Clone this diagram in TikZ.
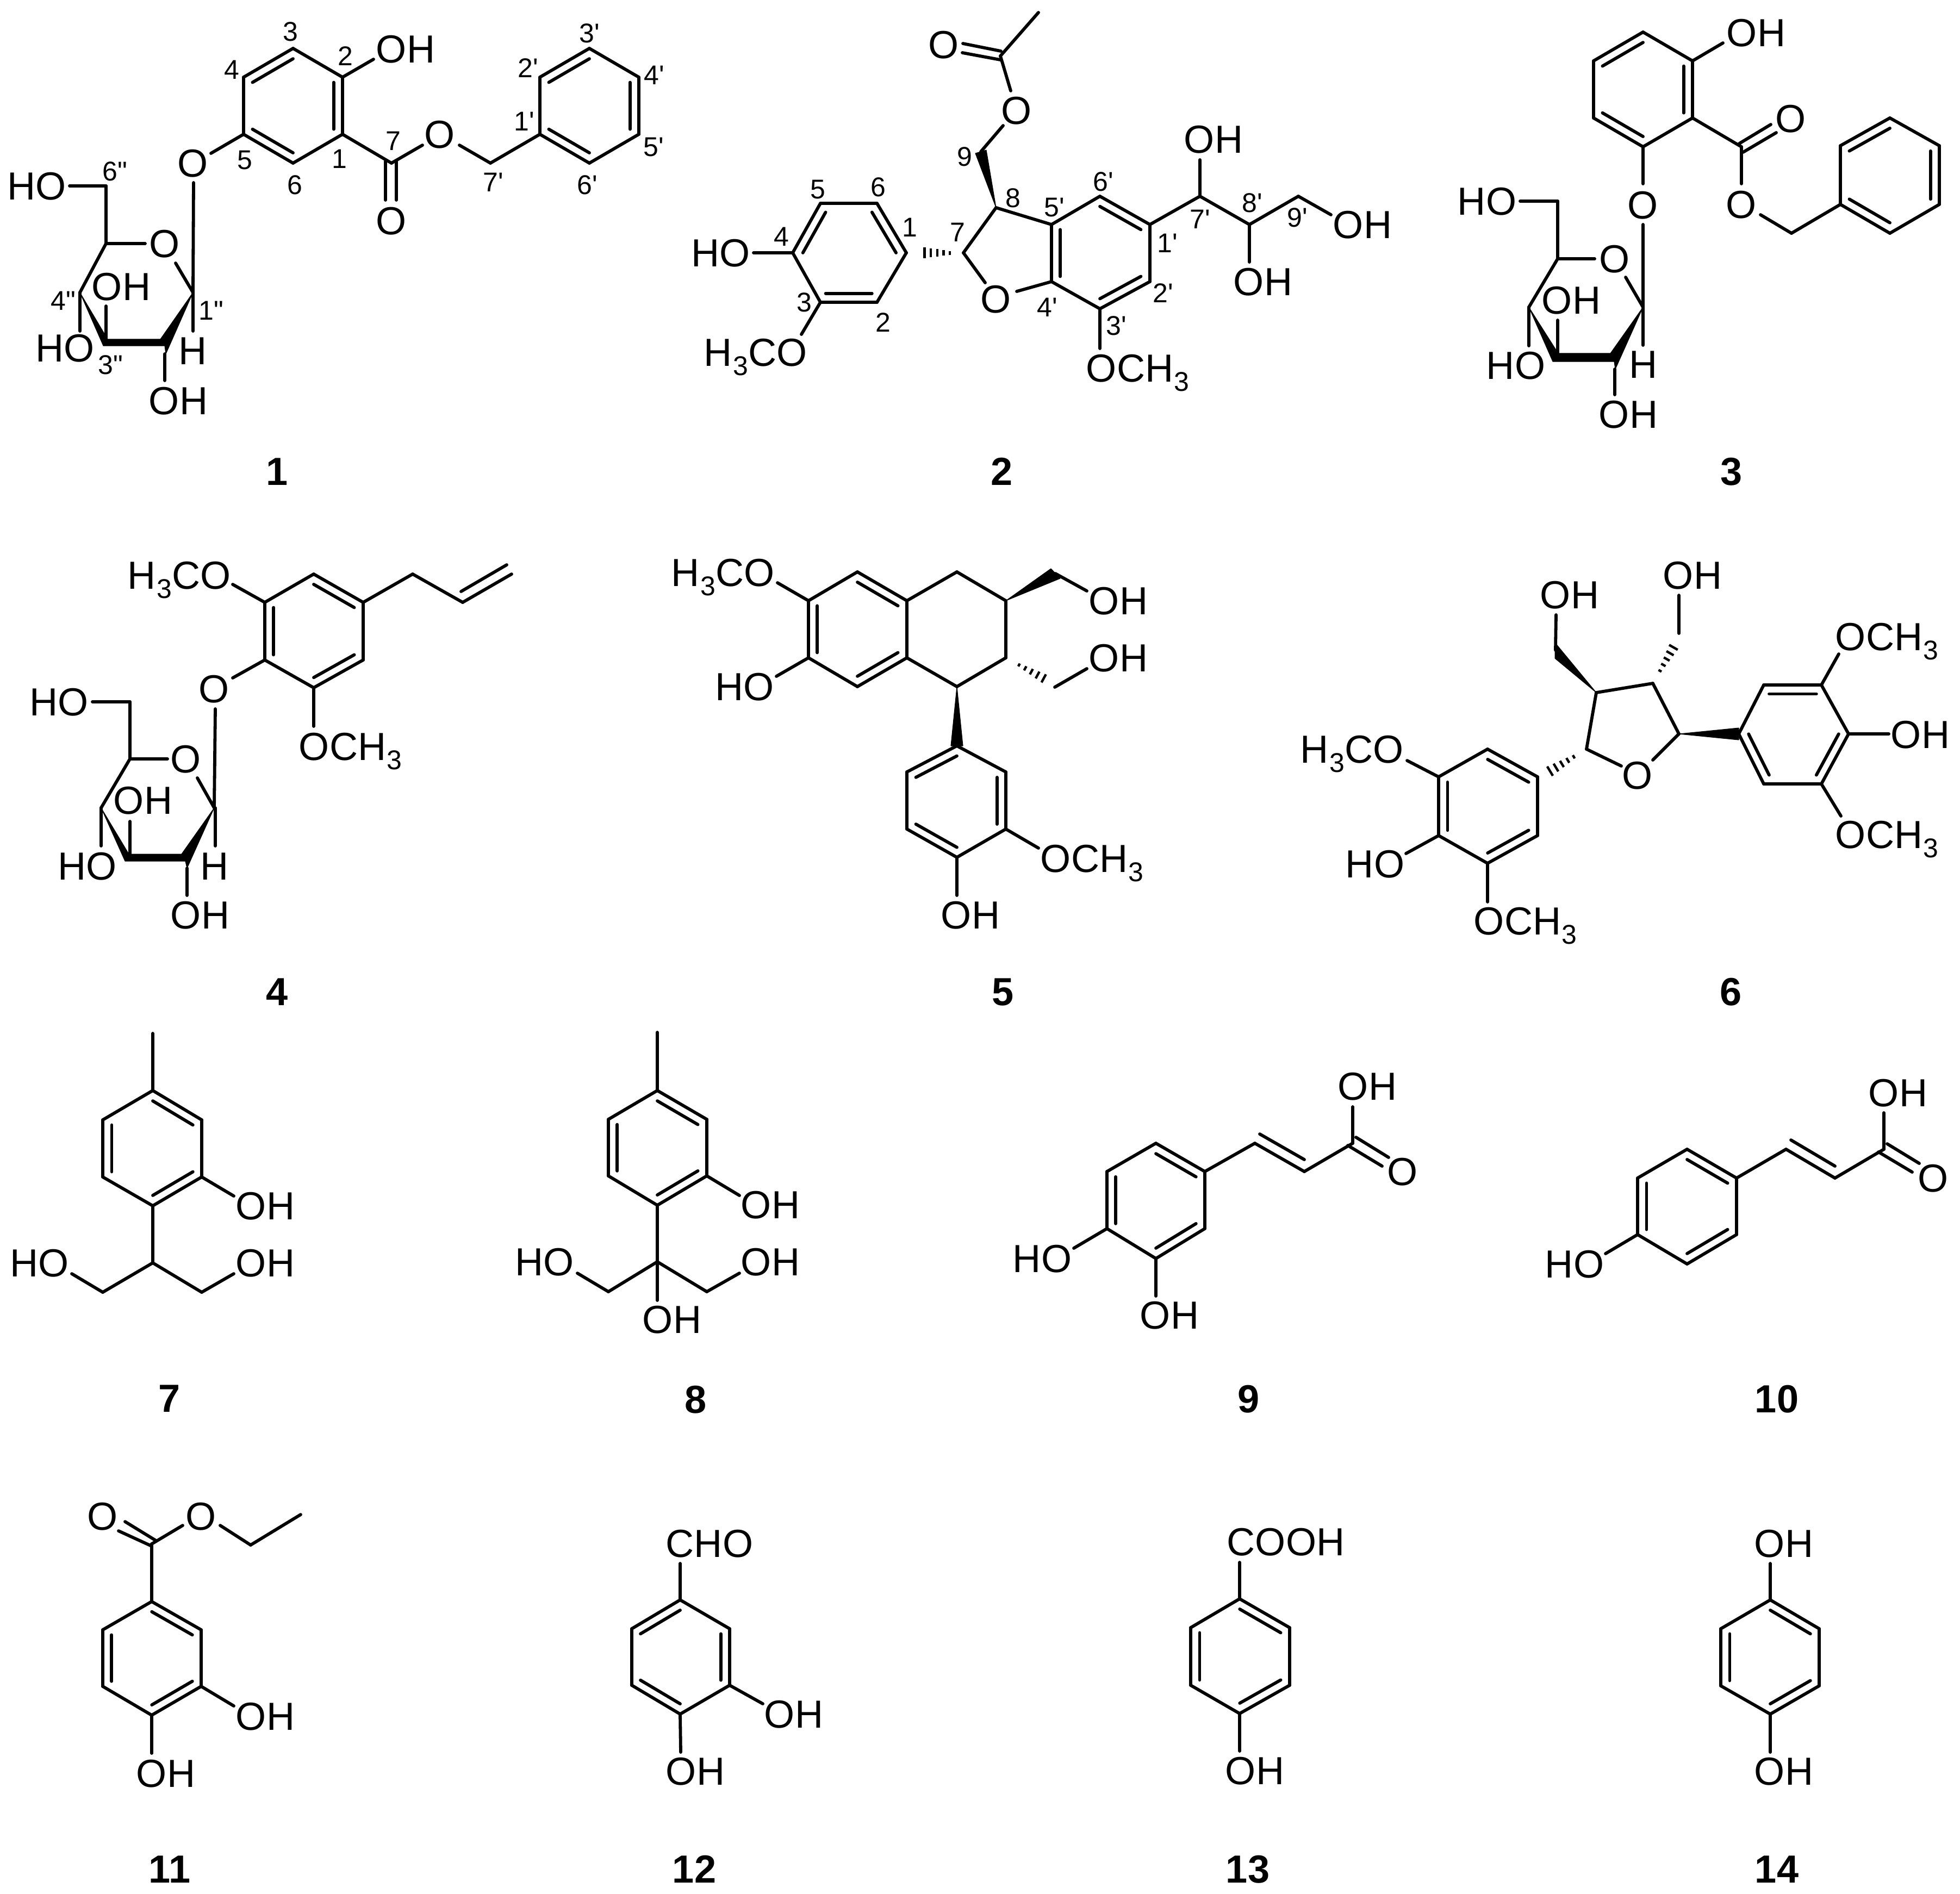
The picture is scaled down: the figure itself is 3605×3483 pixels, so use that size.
\documentclass[tikz,border=0pt]{standalone}
\usepackage{fontspec}
\usetikzlibrary{calc}
\newfontfamily\arialish{Liberation Sans}
\newcommand\subthree{\kern.3pt\raisebox{-4.6pt}{\fontsize{14.2pt}{14.2pt}\selectfont 3}\kern.3pt}
\newcommand\pts[1]{\foreach \nm/\px/\py in {#1} \coordinate (\nm) at (\px,\py);}
\newcommand\bonds[1]{\foreach \pa/\pb in {#1} \draw[bond] (\pa)--(\pb);}
\newcommand\rdbl[1]{\foreach \pa/\pb/\pc in {#1} \draw[bond] ($(\pa)!.18!(\pc)$)--($(\pb)!.18!(\pc)$);}
\newcommand\atoms[1]{\foreach \nm/\px/\py/\tx in {#1} \node[atom] (\nm) at (\px,\py) {\tx};}
\newcommand\nums[1]{\foreach \nm/\px/\py/\tx in {#1} \node[num] (\nm) at (\px,\py) {\tx};}
% apex, wide end, half width at the wide end (pt)
\newcommand\hashb[3]{\foreach \i in {1,...,6}{%
  \pgfmathsetmacro\tt{.3+.7*(\i-1)/5}\pgfmathsetmacro\ww{#3*\tt}%
  \draw[hashline] ($(#1)!\tt!(#2)!\ww pt!90:(#2)$)--($(#1)!\tt!(#2)!\ww pt!-90:(#2)$);}}
\tikzset{
  bond/.style={line width=1.65pt,line cap=round,line join=round,black},
  hashline/.style={line width=1.25pt,black},
  solidw/.style={fill=black,draw=black,line width=.3pt,line join=round},
  atom/.style={inner sep=0pt,font=\arialish\fontsize{20.5pt}{20.5pt}\selectfont,text height=14.7pt,text depth=0pt},
  num/.style={inner sep=0pt,font=\arialish\fontsize{14.2pt}{14.2pt}\selectfont,text height=10.2pt,text depth=0pt},
  cpd/.style={inner sep=0pt,font=\arialish\bfseries\fontsize{20.5pt}{20.5pt}\selectfont,text height=14.7pt,text depth=0pt}
}
\begin{document}
\begin{tikzpicture}[x=.01cm,y=-.01cm]
\useasboundingbox (0,0) rectangle (3605,3483);
%% ---------- 1 ----------
\pts{a1/630/247,a2/630/142,a3/539/89,a4/448/142,a5/448/247,a6/539/300,ac/539/195,a7/720/300,aE1/687/109,aE2/777/267,aE3/845/267,a8/902/300,
p1/993/247,p2/993/142,p3/1084/89,p4/1175/142,p5/1175/247,p6/1084/300,pc/1084/195,aE4/388/282,aE5/356/336,
s1/355/538,sE1/323/484,s5/195/448,sE2/267/448,s6/195/342,sE3/128/342,s4/147/538,sE4/147/609,s3/195/624,sE5/195/563,sE6/355/609,s2/303/651,sE7/303/700,
aD1/709/297,aD2/709/368,aD3/729/297,aD4/729/368}
\bonds{a1/a2,a2/a3,a3/a4,a4/a5,a5/a6,a6/a1,a2/aE1,a1/a7,a7/aE2,aE3/a8,a8/p1,aD1/aD2,aD3/aD4,
p1/p2,p2/p3,p3/p4,p4/p5,p5/p6,p6/p1,a5/aE4,aE5/s1,s1/sE1,s5/sE2,s5/s6,s6/sE3,s5/s4,s4/sE4,s3/sE5,s1/sE6,s2/sE7}
\rdbl{a1/a2/ac,a3/a4/ac,a5/a6/ac,p1/p6/pc,p2/p3/pc,p4/p5/pc}
\fill[solidw] (147,538)--(198,624)--(295,624)--(355,538)--(305,651)--(303,636)--(190,636)--cycle;
\atoms{t1a/746/90/OH,t1b/809/247/O,t1c/720/406/O,t1d/355/300/O,t1e/303/448/O,t1f/68/342/HO,t1g/120/640/HO,t1h/223/527/OH,t1i/355/645/H,t1j/328/737/OH}
\nums{n1a/534/58/3,n1b/635/103/2,n1c/426/128/4,n1d/624/292/1,n1e/450/294/5,n1f/542/340/6,n1g/723/259/7,n1h/211/315/6",n1i/388/571/1",n1j/116/553/4",n1k/203/671/3",n1l/907/335/7',n1m/1080/340/6',n1n/964/223/1',n1o/971/125/2',n1p/1084/61/3',n1q/1203/138/4',n1r/1202/270/5'}
\node[cpd] (c1) at (510,867) {1};
%% ---------- 2 ----------
\pts{b1/1667/465,b2/1613/556,b3/1509/556,b4/1458/465,b5/1509/374,b6/1613/374,bc/1562/465,b7/1772/465,b8/1832/382,
q5/1934/413,q6/2023/361,q1/2115/413,q2/2115/518,q3/2023/568,q4/1934/518,qc/2023/465,
bE1/1386/465,bE2/1474/615,bE3/1812/520,bE4/1870/536,b9/1804/279,bE5/1845/231,bE6/1859/167,bC/1840/103,bM/1910/23,
bD1/1841/94,bD2/1771/80,bD3/1840/110,bD4/1770/97,bH/1689/465,
q7/2207/361,qE1/2207/294,q8/2298/413,qE2/2298/482,q9/2388/361,qE3/2448/395,qE4/2023/641}
\bonds{b1/b2,b2/b3,b3/b4,b4/b5,b5/b6,b6/b1,b4/bE1,b3/bE2,b7/b8,b7/bE3,bE4/q4,b8/q5,q4/q5,q5/q6,q6/q1,q1/q2,q2/q3,q3/q4,b9/bE5,bE6/bC,bC/bM,bD1/bD2,bD3/bD4,q1/q7,q7/qE1,q7/q8,q8/qE2,q8/q9,q9/qE3,q3/qE4}
\rdbl{b1/b6/bc,b4/b5/bc,b2/b3/bc,q4/q5/qc,q6/q1/qc,q2/q3/qc}
\hashb{b7}{bH}{3.3}
\fill[solidw] (1832,382)--(1794,282)--(1814,276)--cycle;
\atoms{t2a/1326/465/HO,t2c/1832/550/O,t2d/1870/203/O,t2e/1736/82/O,t2f/2232/256/OH,t2g/2323/518/OH,t2h/2506/413/OH}
\node[atom] (t2b) at (1390,648) {H\subthree CO};
\node[atom] (t2i) at (2093,677) {OCH\subthree};
\nums{n2a/1504/348/5,n2b/1615/344/6,n2c/1673/418/1,n2d/1761/427/7,n2e/1774/288/9,n2f/1863/364/8,n2g/1939/381/5',n2h/2029/334/6',n2i/1437/435/4,n2j/1479/556/3,n2k/1624/593/2,n2l/1926/565/4',n2m/2053/599/3',n2n/2139/539/2',n2o/2147/447/1',n2p/2207/403/7',n2q/2303/373/8',n2r/2386/400/9'}
\node[cpd] (c2) at (1843,867) {2};
%% ---------- 3 ----------
\pts{d1/3113/217,d2/3113/112,d3/3022/59,d4/2931/112,d5/2931/217,d6/3022/270,dc/3022/165,dE1/3169/79,d7/3203/270,dD1/3199/264,dD2/3257/229,dD3/3206/280,dD4/3267/244,dE2/3203/338,dE3/3238/395,d8/3295/429,
r1/3385/376,r2/3385/268,r3/3476/217,r4/3567/268,r5/3567/376,r6/3476/429,rc/3476/322,dE4/3022/338,dE5/3022/413,
u1/3022/565,uE1/2990/510,u5/2865/476,uE2/2933/476,u6/2865/370,uE3/2796/370,u4/2812/565,uE4/2812/636,u3/2865/650,uE5/2865/589,uE6/3022/635,u2/2970/679,uE7/2970/726}
\bonds{d1/d2,d2/d3,d3/d4,d4/d5,d5/d6,d6/d1,d2/dE1,d1/d7,dD1/dD2,dD3/dD4,d7/dE2,dE3/d8,d8/r1,r1/r2,r2/r3,r3/r4,r4/r5,r5/r6,r6/r1,d6/dE4,dE5/u1,u1/uE1,u5/uE2,u5/u6,u6/uE3,u5/u4,u4/uE4,u3/uE5,u1/uE6,u2/uE7}
\rdbl{d1/d2/dc,d3/d4/dc,d5/d6/dc,r1/r6/rc,r2/r3/rc,r4/r5/rc}
\fill[solidw] (2812,565)--(2866,650)--(2962,650)--(3022,565)--(2971,679)--(2969,665)--(2856,665)--cycle;
\atoms{t3a/3230/60/OH,t3b/3294/218/O,t3c/3203/376/O,t3d/3022/377/O,t3e/2970/476/O,t3f/2735/370/HO,t3g/2788/672/HO,t3h/2890/552/OH,t3i/3022/670/H,t3j/2995/762/OH}
\node[cpd] (c3) at (3185,867) {3};
%% ---------- 4 ----------
\pts{e1/577/1056,e2/668/1108,e3/668/1214,e4/577/1265,e5/487/1214,e6/487/1108,ec/577/1161,eE1/428/1075,e7/759/1056,e8/851/1108,e9/941/1056,eD1/848/1088,eD2/932/1039,eE2/428/1247,eE3/396/1304,eE4/577/1336,
v1/394/1486,vE1/363/1431,v5/239/1396,vE2/308/1396,v6/239/1291,vE3/170/1291,v4/186/1486,vE4/186/1556,v3/239/1571,vE5/239/1511,vE6/396/1556,vT/396/1486,v2/344/1597,vE7/344/1647}
\bonds{e1/e2,e2/e3,e3/e4,e4/e5,e5/e6,e6/e1,e6/eE1,e2/e7,e7/e8,e8/e9,eD1/eD2,e5/eE2,eE3/v1,e4/eE4,v1/vE1,v5/vE2,v5/v6,v6/vE3,v5/v4,v4/vE4,v3/vE5,vT/vE6,v2/vE7}
\rdbl{e1/e2/ec,e5/e6/ec,e3/e4/ec}
\fill[solidw] (186,1486)--(237,1571)--(334,1571)--(394,1486)--(344,1597)--(341,1584)--(230,1584)--cycle;
\atoms{t4b/394/1267/O,t4d/342/1396/O,t4e/109/1291/HO,t4f/161/1593/HO,t4g/263/1472/OH,t4h/395/1593/H,t4i/368/1683/OH}
\node[atom] (t4a) at (330,1058) {H\subthree CO};
\node[atom] (t4c) at (645,1373) {OCH\subthree};
\node[cpd] (c4) at (510,1824) {4};
%% ---------- 5 ----------
\pts{f1/1577/1052,f2/1668/1105,f3/1668/1210,f4/1577/1263,f5/1487/1210,f6/1487/1105,fc/1577/1157,f7/1760/1052,f8/1850/1105,f9/1850/1210,f10/1760/1263,fE1/1430/1072,fE2/1428/1244,
fW/1941/1055,fE3/1999/1087,fH/1931/1254,fG/1940/1264,fE4/1999/1230,
w1/1760/1372,w2/1850/1420,w3/1850/1525,w4/1760/1577,w5/1668/1525,w6/1668/1420,wc/1760/1475,wE1/1910/1560,wE2/1760/1647}
\bonds{f1/f2,f2/f3,f3/f4,f4/f5,f5/f6,f6/f1,f2/f7,f7/f8,f8/f9,f9/f10,f10/f3,f6/fE1,f5/fE2,fW/fE3,fG/fE4,w1/w2,w2/w3,w3/w4,w4/w5,w5/w6,w6/w1,w3/wE1,w4/wE2}
\rdbl{f1/f2/fc,f5/f6/fc,f3/f4/fc,w1/w6/wc,w2/w3/wc,w4/w5/wc}
\hashb{f9}{fH}{2.8}
\fill[solidw] (1850,1105)--(1933,1046)--(1950,1064)--cycle;
\fill[solidw] (1760,1263)--(1749,1372)--(1771,1372)--cycle;
\atoms{t5b/1370/1263/HO,t5c/2057/1105/OH,t5d/2057/1210/OH,t5f/1785/1683/OH}
\node[atom] (t5a) at (1330,1053) {H\subthree CO};
\node[atom] (t5e) at (2009,1579) {OCH\subthree};
\node[cpd] (c5) at (1845,1824) {5};
%% ---------- 6 ----------
\pts{g1/2936/1274,g2/3040/1257,g3/3088/1350,g4/2918/1378,gE1/2982/1409,gE2/3040/1398,gA/2861/1196,gE3/2862/1131,gH/3084/1180,gB/3088/1165,gE4/3088/1095,
x1/3198/1350,x2/3244/1260,x3/3350/1260,x4/3400/1350,x5/3350/1442,x6/3244/1442,xc/3299/1351,xE1/3382/1203,xE2/3474/1350,xE3/3386/1501,
gI/2840/1425,y1/2828/1429,y2/2736/1378,y3/2646/1429,y4/2646/1537,y5/2736/1588,y6/2828/1537,yc/2737/1483,yE1/2588/1399,yE2/2586/1570,yE3/2736/1659}
\bonds{g1/g2,g2/g3,g1/g4,g4/gE1,g3/gE2,gA/gE3,gB/gE4,x1/x2,x2/x3,x3/x4,x4/x5,x5/x6,x6/x1,x3/xE1,x4/xE2,x5/xE3,y1/y2,y2/y3,y3/y4,y4/y5,y5/y6,y6/y1,y3/yE1,y4/yE2,y5/yE3}
\rdbl{x1/x6/xc,x2/x3/xc,x4/x5/xc,y1/y2/yc,y3/y4/yc,y5/y6/yc}
\hashb{g2}{gH}{3}
\hashb{g4}{gI}{3.3}
\fill[solidw] (2936,1274)--(2860,1182)--(2860,1211)--cycle;
\fill[solidw] (3088,1350)--(3198,1339)--(3198,1361)--cycle;
\atoms{t6a/3012/1426/O,t6b/2887/1094/OH,t6c/3113/1058/OH,t6e/3532/1351/OH,t6h/2529/1589/HO}
\node[atom] (t6d) at (3471,1171) {OCH\subthree};
\node[atom] (t6f) at (3471,1535) {OCH\subthree};
\node[atom] (t6g) at (2487,1378) {H\subthree CO};
\node[atom] (t6i) at (2806,1694) {OCH\subthree};
\node[cpd] (c6) at (3184,1824) {6};
%% ---------- 7 ----------
\pts{h0/281/1901,h1/281/2006,h2/371/2060,h3/371/2165,h4/281/2218,h5/189/2165,h6/189/2060,hc/281/2112,hE1/430/2200,h7/281/2323,h8/189/2377,hE2/132/2343,h9/371/2377,hE3/430/2343}
\bonds{h0/h1,h1/h2,h2/h3,h3/h4,h4/h5,h5/h6,h6/h1,h3/hE1,h4/h7,h7/h8,h8/hE2,h7/h9,h9/hE3}
\rdbl{h1/h2/hc,h5/h6/hc,h3/h4/hc}
\atoms{t7a/488/2218/OH,t7b/73/2323/HO,t7c/488/2323/OH}
\node[cpd] (c7) at (312,2572) {7};
%% ---------- 8 ----------
\pts{i0/1209/1899,i1/1209/2006,i2/1300/2059,i3/1300/2163,i4/1209/2217,i5/1119/2163,i6/1119/2059,ic/1209/2112,iE1/1360/2199,i7/1209/2321,i8/1119/2376,iE2/1062/2342,i9/1300/2376,iE3/1360/2342,iE4/1209/2392}
\bonds{i0/i1,i1/i2,i2/i3,i3/i4,i4/i5,i5/i6,i6/i1,i3/iE1,i4/i7,i7/i8,i8/iE2,i7/i9,i9/iE3,i7/iE4}
\rdbl{i1/i2/ic,i5/i6/ic,i3/i4/ic}
\atoms{t8a/1417/2216/OH,t8b/1002/2321/HO,t8c/1417/2321/OH,t8d/1236/2427/OH}
\node[cpd] (c8) at (1280,2574) {8};
%% ---------- 9 ----------
\pts{j1/2126/2103,j2/2216/2155,j3/2216/2260,j4/2126/2315,j5/2036/2260,j6/2036/2155,jc/2126/2209,j7/2308/2103,j8/2399/2155,j9/2488/2103,jD1/2317/2086,jD2/2399/2133,jD3/2494/2092,jD4/2554/2129,jD5/2479/2107,jD6/2542/2145,jE1/2488/2036,jE2/1975/2296,jE3/2126/2384}
\bonds{j1/j2,j2/j3,j3/j4,j4/j5,j5/j6,j6/j1,j2/j7,j7/j8,j8/j9,jD1/jD2,jD3/jD4,jD5/jD6,j9/jE1,j5/jE2,j4/jE3}
\rdbl{j1/j2/jc,j5/j6/jc,j3/j4/jc}
\atoms{t9a/2580/2155/O,t9b/2515/1998/OH,t9c/1917/2315/HO,t9d/2151/2419/OH}
\node[cpd] (c9) at (2297,2573) {9};
%% ---------- 10 ----------
\pts{k1/3103/2114,k2/3194/2167,k3/3194/2271,k4/3103/2325,k5/3012/2271,k6/3012/2167,kc/3103/2219,k7/3285/2114,k8/3375/2167,k9/3465/2114,kD1/3294/2097,kD2/3375/2145,kD3/3471/2104,kD4/3530/2140,kD5/3455/2119,kD6/3517/2156,kE1/3465/2047,kE2/2953/2306}
\bonds{k1/k2,k2/k3,k3/k4,k4/k5,k5/k6,k6/k1,k2/k7,k7/k8,k8/k9,kD1/kD2,kD3/kD4,kD5/kD6,k9/kE1,k5/kE2}
\rdbl{k1/k2/kc,k5/k6/kc,k3/k4/kc}
\atoms{t10a/3555/2167/O,t10b/3491/2010/OH,t10c/2896/2325/HO}
\node[cpd] (c10) at (3268,2573) {10};
%% ---------- 11 ----------
\pts{l1/279/2946,l2/370/2998,l3/370/3102,l4/279/3155,l5/189/3102,l6/189/2998,lc/280/3050,l7/279/2840,lD1/230/2799,lD2/287/2834,lD3/218/2816,lD4/279/2844,lE1/336/2806,lE2/405/2806,l8/461/2842,l9/553/2786,lE3/430/3138,lE4/279/3225}
\bonds{l1/l2,l2/l3,l3/l4,l4/l5,l5/l6,l6/l1,l1/l7,lD1/lD2,lD3/lD4,l7/lE1,lE2/l8,l8/l9,l3/lE3,l4/lE4}
\rdbl{l1/l2/lc,l5/l6/lc,l3/l4/lc}
\atoms{t11a/189/2789/O,t11b/370/2789/O,t11c/488/3157/OH,t11d/305/3262/OH}
\node[cpd] (c11) at (312,3438) {11};
%% ---------- 12 ----------
\pts{m1/1251/2943,m2/1342/2996,m3/1342/3100,m4/1251/3153,m5/1162/3100,m6/1162/2996,mc/1251/3048,mE1/1251/2876,mE2/1403/3134,mE3/1252/3223}
\bonds{m1/m2,m2/m3,m3/m4,m4/m5,m5/m6,m6/m1,m1/mE1,m3/mE2,m4/mE3}
\rdbl{m1/m6/mc,m2/m3/mc,m4/m5/mc}
\atoms{t12a/1305/2839/CHO,t12b/1460/3153/OH,t12c/1279/3258/OH}
\node[cpd] (c12) at (1277,3438) {12};
%% ---------- 13 ----------
\pts{o1/2280/2941,o2/2372/2994,o3/2372/3100,o4/2280/3152,o5/2190/3100,o6/2190/2994,oc/2281/3046,oE1/2280/2874,oE2/2280/3221}
\bonds{o1/o2,o2/o3,o3/o4,o4/o5,o5/o6,o6/o1,o1/oE1,o4/oE2}
\rdbl{o1/o2/oc,o5/o6/oc,o3/o4/oc}
\atoms{t13a/2365/2836/COOH,t13b/2308/3257/OH}
\node[cpd] (c13) at (2295,3438) {13};
%% ---------- 14 ----------
\pts{z1/3256/2943,z2/3346/2996,z3/3346/3101,z4/3256/3153,z5/3165/3101,z6/3165/2996,zc/3256/3048,zE1/3256/2876,zE2/3256/3223}
\bonds{z1/z2,z2/z3,z3/z4,z4/z5,z5/z6,z6/z1,z1/zE1,z4/zE2}
\rdbl{z1/z2/zc,z5/z6/zc,z3/z4/zc}
\atoms{t14a/3281/2839/OH,t14b/3281/3258/OH}
\node[cpd] (c14) at (3268,3438) {14};
\end{tikzpicture}
\end{document}
